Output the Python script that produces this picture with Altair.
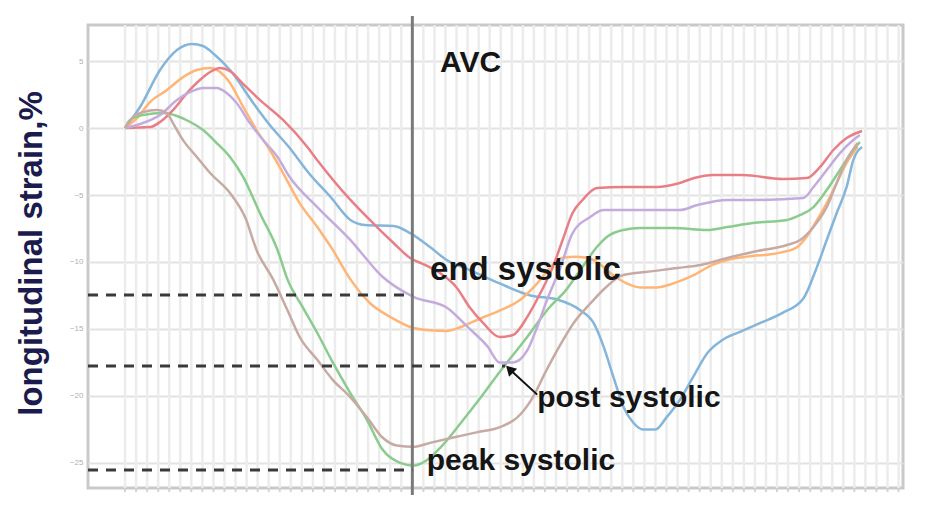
import altair as alt
import pandas as pd

# ---- data (frame index, longitudinal strain %) ----
blue_x = [0, 1.36, 3.17, 4.7, 6.06, 7.06, 8.14, 9.5, 11.6, 13.1, 14.9, 16.7, 18.6, 20.4, 21.7, 24.3, 25.8, 27.6, 29.1, 31.2, 33.9, 36.7, 39.1, 41.2, 42.4, 43.3, 44.2, 45.1, 46.0, 46.9, 48.0, 49.0, 50.2, 51.4, 52.7, 54.1, 55.7, 57.5, 59.5, 61.4, 62.6, 63.5, 64.4, 65.3, 65.9, 66.7]
blue_y = [0, 1.57, 4.33, 5.82, 6.27, 6.12, 5.45, 4.33, 1.87, 0.22, -1.49, -3.43, -5.15, -6.87, -7.24, -7.31, -7.84, -8.88, -9.85, -10.6, -11.6, -12.5, -12.8, -13.6, -14.55, -16.3, -18.6, -20.8, -22.0, -22.5, -22.5, -21.6, -20.3, -18.6, -16.8, -15.8, -15.2, -14.55, -13.8, -12.7, -10.4, -8.36, -6.34, -4.4, -2.39, -1.42]

orange_x = [0, 1.1, 2.26, 3.8, 5.25, 6.5, 7.7, 8.6, 9.5, 10.7, 11.9, 13.1, 14.3, 15.8, 17.4, 18.8, 20.4, 22.2, 24.0, 25.8, 27.6, 29.1, 30.4, 32.2, 34.0, 35.8, 37.3, 38.5, 39.5, 40.9, 42.4, 44.2, 45.4, 46.6, 48.1, 49.6, 51.4, 53.2, 54.5, 56.3, 59.3, 60.8, 61.7, 62.6, 63.5, 64.4, 65.3, 66.3]
orange_y = [0, 0.75, 1.94, 2.84, 3.8, 4.33, 4.48, 4.18, 3.36, 1.57, -0.15, -1.64, -3.36, -5.6, -7.39, -9.1, -11.3, -13.1, -14.1, -14.85, -15.1, -15.15, -14.85, -14.2, -13.6, -12.8, -11.6, -10.4, -9.7, -9.6, -9.85, -11.0, -11.6, -11.9, -11.9, -11.6, -11.0, -10.2, -9.85, -9.6, -9.3, -8.9, -8.1, -6.9, -5.6, -4.1, -2.6, -1.42]

green_x = [0, 0.45, 1.63, 3.44, 4.7, 5.9, 7.06, 8.3, 9.5, 10.7, 12.2, 13.8, 14.7, 16.1, 17.4, 18.8, 20.4, 21.9, 23.3, 24.9, 26.1, 27.3, 28.6, 30.4, 32.2, 34.0, 36.2, 38.4, 39.9, 41.2, 42.7, 43.6, 45.1, 46.6, 49.6, 52.7, 54.5, 56.8, 59.9, 61.1, 62.3, 63.5, 64.7, 65.9, 66.5]
green_y = [0, 0.6, 0.97, 1.12, 0.9, 0.45, -0.15, -1.12, -2.16, -3.66, -6.34, -9.1, -11.3, -13.4, -15.3, -17.5, -19.8, -21.8, -24.0, -25.0, -25.2, -24.8, -23.8, -22.0, -20.1, -18.1, -15.8, -13.4, -12.1, -10.6, -8.88, -8.13, -7.61, -7.46, -7.46, -7.61, -7.39, -7.09, -6.87, -6.49, -5.9, -4.63, -3.13, -1.64, -1.04]

red_x = [0, 2.26, 3.17, 4.34, 5.6, 6.8, 7.7, 8.6, 9.5, 10.7, 12.2, 14.3, 16.5, 17.4, 20.4, 22.8, 24.3, 25.8, 27.1, 28.8, 30.0, 31.2, 32.4, 33.9, 35.1, 36.4, 37.6, 38.7, 39.6, 40.5, 41.4, 42.7, 45.1, 48.1, 50.2, 51.5, 53.2, 55.9, 59.5, 61.7, 62.9, 64.1, 65.3, 66.7]
red_y = [0, 0.07, 0.45, 1.34, 2.6, 3.6, 4.18, 4.48, 4.25, 3.28, 2.1, 0.6, -1.42, -2.4, -5.37, -7.39, -8.58, -9.7, -10.2, -11.0, -11.9, -13.4, -14.55, -15.6, -15.45, -14.1, -12.3, -10.4, -8.36, -6.34, -5.37, -4.48, -4.4, -4.4, -4.1, -3.73, -3.5, -3.5, -3.8, -3.73, -2.9, -1.64, -0.75, -0.22]

purple_x = [0, 1.6, 3.17, 4.7, 5.9, 7.06, 8.3, 9.2, 10.1, 11.3, 12.5, 13.8, 14.9, 17.4, 20.4, 23.3, 26.1, 29.1, 31.0, 32.8, 33.9, 35.1, 36.4, 37.3, 38.2, 39.4, 40.5, 42.1, 43.3, 46.6, 50.2, 51.8, 54.5, 56.8, 61.4, 62.3, 63.5, 64.7, 65.9, 66.5]
purple_y = [0, 0.37, 0.97, 2.09, 2.69, 2.99, 2.99, 2.61, 1.87, 0.37, -0.9, -2.16, -3.66, -5.9, -8.36, -11.1, -12.6, -13.4, -14.85, -16.3, -17.5, -17.5, -16.6, -14.85, -12.8, -10.4, -7.84, -6.64, -6.12, -6.12, -6.12, -5.75, -5.37, -5.37, -5.22, -4.4, -3.13, -1.87, -0.9, -0.52]

brown_x = [0, 0.72, 1.63, 2.9, 3.8, 4.34, 5.25, 6.5, 7.7, 9.5, 10.9, 11.9, 13.4, 14.7, 15.8, 17.4, 18.8, 20.4, 21.9, 23.3, 24.6, 26.1, 27.6, 29.7, 31.9, 34.0, 35.5, 36.9, 38.0, 39.1, 40.6, 42.1, 43.5, 45.0, 47.1, 50.0, 52.2, 54.5, 56.8, 59.9, 61.1, 62.3, 63.5, 64.4, 65.3, 66.3]
brown_y = [0, 0.82, 1.19, 1.34, 1.12, 0.37, -0.9, -2.16, -3.36, -4.85, -6.72, -9.1, -11.3, -13.6, -15.6, -17.3, -18.8, -20.1, -21.6, -23.1, -23.7, -23.8, -23.5, -23.1, -22.7, -22.3, -21.6, -20.1, -18.3, -16.6, -14.55, -13.1, -11.9, -11.0, -10.75, -10.45, -10.2, -9.7, -9.25, -8.73, -8.36, -7.39, -5.9, -4.1, -2.39, -1.12]

series_names = ["blue", "orange", "green", "red", "purple", "brown"]
series_colors = ["#84b5da", "#ffb576", "#8acb8e", "#e97f86", "#c3acdd", "#c7aaa4"]

avc_frame = [26.0]
dash_levels = [-12.46, -17.76, -25.52]
dash_ends = [26.0, 34.4, 26.0]

label_texts = ["AVC", "end systolic", "post systolic", "peak systolic"]
label_x = [28.5, 27.6, 37.3, 27.3]
label_y = [4.2, -11.34, -20.8, -25.5]
label_sizes = [30, 33, 30, 30]

arrow_x = [37.3, 34.8]
arrow_y = [-19.9, -18.0]

y_ticks = [-25, -20, -15, -10, -5, 0, 5]
x_ticks = list(range(0, 71))

X_MIN, X_MAX = -3.35, 70.4
Y_MIN, Y_MAX = -26.87, 7.69

# ---- tables ----
rows = []
for name, xs, ys in zip(series_names,
                        [blue_x, orange_x, green_x, red_x, purple_x, brown_x],
                        [blue_y, orange_y, green_y, red_y, purple_y, brown_y]):
    for i, (a, b) in enumerate(zip(xs, ys)):
        rows.append({"series": name, "frame": a, "strain": b, "order": i})
curves = pd.DataFrame(rows)

dash_rows = []
for k, (lvl, end) in enumerate(zip(dash_levels, dash_ends)):
    dash_rows.append({"id": k, "frame": X_MIN, "strain": lvl, "o": 0})
    dash_rows.append({"id": k, "frame": end, "strain": lvl, "o": 1})
dashes = pd.DataFrame(dash_rows)

labels = pd.DataFrame({"text": label_texts, "frame": label_x, "strain": label_y, "size": label_sizes})
arrow = pd.DataFrame({"frame": arrow_x, "strain": arrow_y, "o": [0, 1]})
arrow_head = pd.DataFrame({"frame": [arrow_x[1]], "strain": [arrow_y[1]]})
avc = pd.DataFrame({"frame": avc_frame})
grid_x = pd.DataFrame({"frame": x_ticks})

xscale = alt.Scale(domain=[X_MIN, X_MAX], nice=False, zero=False)
yscale = alt.Scale(domain=[Y_MIN, Y_MAX], nice=False, zero=False)

y_enc = alt.Y("strain:Q", scale=yscale,
              axis=alt.Axis(values=y_ticks, title="longitudinal strain,%",
                            titleFont="Liberation Sans", titleFontSize=33, titleFontWeight="bold",
                            titleColor="#1b1b4d", titleAngle=270, titleX=-57, titleY=228,
                            titleAlign="center", titleBaseline="middle",
                            labelFontSize=8, labelColor="#b0b0b0", labelPadding=5,
                            ticks=False, domain=False,
                            grid=True, gridColor="#e2e2e2", gridWidth=2))
x_enc = alt.X("frame:Q", scale=xscale, axis=None)

vgrid = alt.Chart(grid_x).mark_rule(color="#ececec", strokeWidth=2.5).encode(
    x=alt.X("frame:Q", scale=xscale, axis=None), y=alt.value(0), y2=alt.value(463)
)
vticks = alt.Chart(grid_x).mark_rule(color="#d2d2d2", strokeWidth=2).encode(
    x=alt.X("frame:Q", scale=xscale, axis=None), y=alt.value(463), y2=alt.value(467)
)

lines = alt.Chart(curves).mark_line(strokeWidth=2.5, interpolate="monotone").encode(
    x=x_enc, y=y_enc,
    color=alt.Color("series:N", scale=alt.Scale(domain=series_names, range=series_colors), legend=None),
    order="order:Q",
)

avc_rule = alt.Chart(avc).mark_rule(color="#7a7a7a", strokeWidth=3).encode(
    x=alt.X("frame:Q", scale=xscale), y=alt.value(-9), y2=alt.value(470)
)

dash_lines = alt.Chart(dashes).mark_line(color="#3a3a3a", strokeWidth=3, strokeDash=[10, 8]).encode(
    x=alt.X("frame:Q", scale=xscale), y=alt.Y("strain:Q", scale=yscale),
    detail="id:N", order="o:Q"
)

arrow_line = alt.Chart(arrow).mark_line(color="#111111", strokeWidth=2).encode(
    x=alt.X("frame:Q", scale=xscale), y=alt.Y("strain:Q", scale=yscale), order="o:Q"
)
arrow_tip = alt.Chart(arrow_head).mark_point(shape="triangle-up", filled=True, color="#111111",
                                             size=130, angle=315, opacity=1).encode(
    x=alt.X("frame:Q", scale=xscale), y=alt.Y("strain:Q", scale=yscale)
)

texts = alt.Chart(labels).mark_text(align="left", baseline="alphabetic", font="Liberation Sans",
                                    fontWeight="bold", color="#151515").encode(
    x=alt.X("frame:Q", scale=xscale), y=alt.Y("strain:Q", scale=yscale),
    text="text:N", size=alt.Size("size:Q", scale=None, legend=None)
)

chart = alt.layer(vgrid, vticks, lines, avc_rule, dash_lines, arrow_line, arrow_tip, texts).properties(
    width=815, height=463,
    autosize=alt.AutoSizeParams(type="none"),
    padding={"left": 80, "top": 17, "right": 20, "bottom": 10},
    background="white",
).configure_view(stroke="#c9c9c9", strokeWidth=3)

chart.save("out.html", embed_options={"renderer": "svg", "actions": False})
